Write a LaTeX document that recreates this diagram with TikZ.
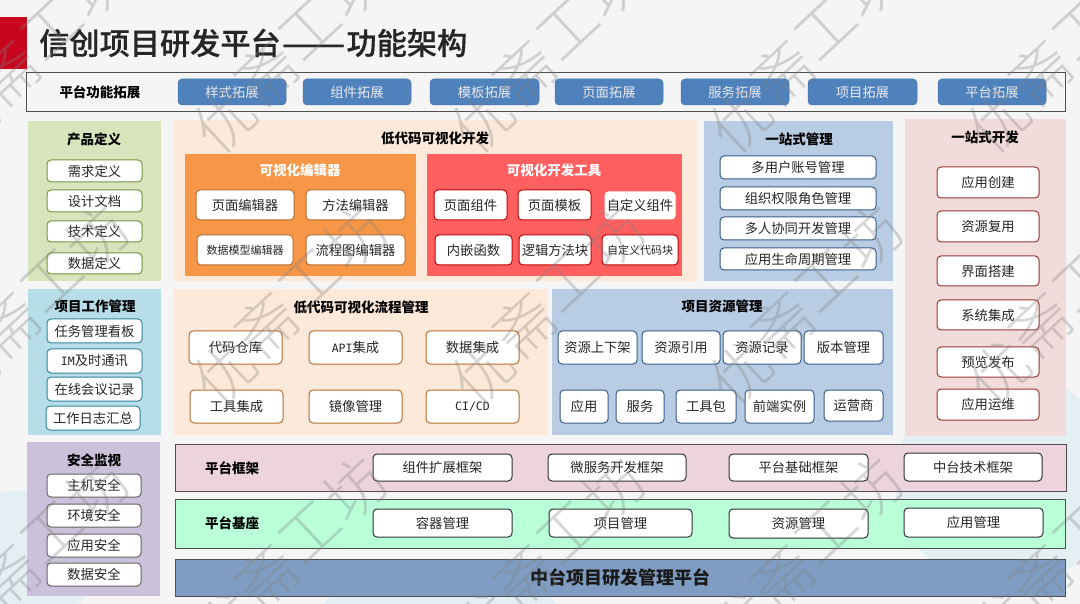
\documentclass[tikz,border=0pt]{standalone}
\usepackage{fontspec}
\usepackage{graphicx}
\setmainfont{Noto Sans CJK SC}
\newfontfamily\latmono{DejaVu Sans Mono}
\newfontfamily\titlefont[FakeBold=0.5]{Noto Sans CJK SC Medium}
\newfontfamily\wmfont{Noto Sans CJK SC Light}
\newcommand{\lat}[1]{{\latmono\fontsize{11.5}{14}\selectfont #1}}
\usetikzlibrary{calc}
\definecolor{bgc}{HTML}{F5F5F5}
\definecolor{wmc}{HTML}{808080}
\definecolor{blobc}{HTML}{E4EFF4}
\definecolor{redbar}{HTML}{C8071F}
\definecolor{btn}{HTML}{4F81BD}
\definecolor{pgreen}{HTML}{D8E4BC}
\definecolor{pcream}{HTML}{FDE9D9}
\definecolor{porange}{HTML}{F79646}
\definecolor{pred}{HTML}{FF5F5F}
\definecolor{pblue}{HTML}{B8CCE4}
\definecolor{ppink}{HTML}{F2DCDB}
\definecolor{pcyan}{HTML}{B7DEE8}
\definecolor{ppurple}{HTML}{CCC1DA}
\definecolor{bandpink}{HTML}{EDD3DE}
\definecolor{bandgreen}{HTML}{B9FFD8}
\definecolor{bandblue}{HTML}{7F9DC2}
\definecolor{sgreen}{HTML}{76923C}
\definecolor{sorange}{HTML}{B66D31}
\definecolor{sred}{HTML}{C00000}
\definecolor{sblue}{HTML}{385D8A}
\definecolor{smaroon}{HTML}{953735}
\definecolor{scyan}{HTML}{31859C}
\definecolor{sdark}{HTML}{303030}
\tikzset{
  panel/.style={draw=none,inner sep=0pt},
  band/.style={draw=sdark!85,line width=1pt,inner sep=0pt},
  item/.style={draw,fill=white,rounded corners=4pt,line width=1pt,inner sep=0pt,font=\fontsize{13.3}{15}\selectfont,text=black!85},
  smallitem/.style={item,font=\fontsize{11}{13}\selectfont},
  head/.style={inner sep=0pt,font=\fontsize{13.5}{15}\selectfont\bfseries,text=black},
  whitehead/.style={head,text=white},
  btnitem/.style={draw=btn!90!black,fill=btn,rounded corners=4pt,line width=.5pt,inner sep=0pt,text=white!92!black,font=\fontsize{13.3}{15}\selectfont},
  wm/.style={inner sep=0pt,text=wmc,text opacity=.32,rotate=43,font=\wmfont\fontsize{60}{62}\selectfont}
}
% \bx{name}{x1}{y1}{x2}{y2}{style}{text}
\newcommand{\bx}[7]{\node[#6,minimum width={(#4)-(#2)},minimum height={(#5)-(#3)}] (#1) at ({((#2)+(#4))/2},{((#3)+(#5))/2}) {#7};}
\begin{document}
\begin{tikzpicture}[x=1pt,y=-1pt]
\useasboundingbox (0,0) rectangle (1080,604);
\fill[bgc] (0,0) rectangle (1080,604);
% faint background blobs
\fill[blobc] (1005,480) ellipse (110 and 110);
\fill[blobc] (20,560) ellipse (75 and 70);
\fill[blobc] (440,610) ellipse (120 and 30);
% title
\bx{redbar}{0}{17}{27}{69}{panel,fill=redbar}{}
\node[anchor=west,inner sep=0pt,font=\titlefont\fontsize{30.2}{33}\selectfont,text=black!85] (title) at (39,43) {信创项目研发平台\kern1pt\scalebox{1.25}[1]{——}\kern1pt功能架构};
% top band
\bx{topband}{26}{73}{1065}{112}{band}{}
\node[head] (toplabel) at (100,92) {平台功能拓展};
\bx{b1}{178}{79}{286}{105}{btnitem}{样式拓展}
\bx{b2}{303}{79}{411}{105}{btnitem}{组件拓展}
\bx{b3}{430}{79}{539}{105}{btnitem}{模板拓展}
\bx{b4}{555}{79}{663}{105}{btnitem}{页面拓展}
\bx{b5}{681}{79}{789}{105}{btnitem}{服务拓展}
\bx{b6}{808}{79}{917}{105}{btnitem}{项目拓展}
\bx{b7}{938}{79}{1046}{105}{btnitem}{平台拓展}
% product definition
\bx{pa}{28}{121}{161}{281}{panel,fill=pgreen}{}
\node[head] (pat) at (94,139) {产品定义};
\bx{pa1}{47}{160}{142}{182}{item,draw=sgreen}{需求定义}
\bx{pa2}{47}{190}{142}{212}{item,draw=sgreen}{设计文档}
\bx{pa3}{47}{221}{142}{242}{item,draw=sgreen}{技术定义}
\bx{pa4}{47}{253}{142}{274}{item,draw=sgreen}{数据定义}
% low code dev
\bx{pb}{174}{120}{697}{281}{panel,fill=pcream}{}
\node[head] (pbt) at (435,138) {低代码可视化开发};
\bx{pc}{185}{154}{416}{276}{panel,fill=porange}{}
\node[whitehead] (pct) at (300,170) {可视化编辑器};
\bx{pc1}{196}{190}{294}{220}{item,draw=sorange}{页面编辑器}
\bx{pc2}{306}{190}{405}{220}{item,draw=sorange}{方法编辑器}
\bx{pc3}{197}{235}{293}{265}{smallitem,draw=sorange}{数据模型编辑器}
\bx{pc4}{306}{235}{405}{265}{item,draw=sorange}{流程图编辑器}
\bx{pd}{427}{154}{682}{276}{panel,fill=pred}{}
\node[whitehead] (pdt) at (554,170) {可视化开发工具};
\bx{pd1}{434}{190}{507}{220}{item,draw=sred}{页面组件}
\bx{pd2}{518}{190}{591}{220}{item,draw=sred}{页面模板}
\bx{pd3}{604}{191}{676}{220}{item,draw=pred}{自定义组件}
\bx{pd4}{435}{235}{512}{265}{item,draw=sred}{内嵌函数}
\bx{pd5}{519}{235}{591}{265}{item,draw=sred}{逻辑方法块}
\bx{pd6}{602}{235}{678}{265}{smallitem,draw=sred}{自定义代码块}
% one-stop management
\bx{pe}{704}{121}{893}{281}{panel,fill=pblue}{}
\node[head] (pet) at (799,139) {一站式管理};
\bx{pe1}{720}{156}{876}{179}{item,draw=sblue}{多用户账号管理}
\bx{pe2}{720}{187}{876}{210}{item,draw=sblue}{组织权限角色管理}
\bx{pe3}{720}{217}{876}{240}{item,draw=sblue}{多人协同开发管理}
\bx{pe4}{720}{248}{876}{270}{item,draw=sblue}{应用生命周期管理}
% one-stop development
\bx{pf}{905}{119}{1066}{436}{panel,fill=ppink}{}
\node[head] (pft) at (985,137) {一站式开发};
\bx{pf1}{937}{167}{1039}{198}{item,draw=smaroon}{应用创建}
\bx{pf2}{937}{211}{1039}{242}{item,draw=smaroon}{资源复用}
\bx{pf3}{937}{256}{1039}{286}{item,draw=smaroon}{界面搭建}
\bx{pf4}{937}{300}{1039}{330}{item,draw=smaroon}{系统集成}
\bx{pf5}{937}{347}{1039}{377}{item,draw=smaroon}{预览发布}
\bx{pf6}{937}{389}{1039}{420}{item,draw=smaroon}{应用运维}
% project work management
\bx{pg}{28}{289}{161}{435}{panel,fill=pcyan}{}
\node[head] (pgt) at (95,306) {项目工作管理};
\bx{pg1}{47}{319}{142}{343}{item,draw=scyan}{任务管理看板}
\bx{pg2}{47}{349}{142}{373}{item,draw=scyan}{\lat{IM}及时通讯}
\bx{pg3}{47}{377}{142}{401}{item,draw=scyan}{在线会议记录}
\bx{pg4}{46}{406}{140}{430}{item,draw=scyan}{工作日志汇总}
% flow management
\bx{ph}{174}{289}{548}{435}{panel,fill=pcream}{}
\node[head] (pht) at (361,307) {低代码可视化流程管理};
\bx{ph1}{189}{331}{282}{364}{item,draw=sorange}{代码仓库}
\bx{ph2}{309}{331}{402}{364}{item,draw=sorange}{\lat{API}集成}
\bx{ph3}{426}{331}{519}{364}{item,draw=sorange}{数据集成}
\bx{ph4}{190}{390}{283}{423}{item,draw=sorange}{工具集成}
\bx{ph5}{309}{390}{402}{423}{item,draw=sorange}{镜像管理}
\bx{ph6}{426}{390}{519}{423}{item,draw=sorange}{\lat{CI/CD}}
% resources
\bx{pi}{552}{289}{893}{435}{panel,fill=pblue}{}
\node[head] (pit) at (722,306) {项目资源管理};
\bx{pi1}{558}{331}{637}{364}{item,draw=sblue}{资源上下架}
\bx{pi2}{642}{331}{720}{364}{item,draw=sblue}{资源引用}
\bx{pi3}{723}{331}{801}{364}{item,draw=sblue}{资源记录}
\bx{pi4}{804}{331}{883}{364}{item,draw=sblue}{版本管理}
\bx{pi5}{560}{390}{608}{423}{item,draw=sblue}{应用}
\bx{pi6}{616}{390}{664}{423}{item,draw=sblue}{服务}
\bx{pi7}{676}{390}{736}{423}{item,draw=sblue}{工具包}
\bx{pi8}{745}{390}{814}{423}{item,draw=sblue}{前端实例}
\bx{pi9}{824}{390}{883}{421}{item,draw=sblue}{运营商}
% security
\bx{pj}{27}{442}{160}{596}{panel,fill=ppurple}{}
\node[head] (pjt) at (94,460) {安全监视};
\bx{pj1}{47}{474}{141}{497}{item,draw=sdark!75}{主机安全}
\bx{pj2}{47}{504}{141}{527}{item,draw=sdark!75}{环境安全}
\bx{pj3}{47}{534}{141}{557}{item,draw=sdark!75}{应用安全}
\bx{pj4}{47}{563}{141}{586}{item,draw=sdark!75}{数据安全}
% framework band
\bx{pk}{175}{444}{1066}{491}{band,fill=bandpink}{}
\node[head] (pkt) at (232,468) {平台框架};
\bx{pk1}{373}{454}{512}{481}{item,draw=sdark}{组件扩展框架}
\bx{pk2}{548}{454}{686}{481}{item,draw=sdark}{微服务开发框架}
\bx{pk3}{729}{454}{868}{481}{item,draw=sdark}{平台基础框架}
\bx{pk4}{904}{453}{1042}{481}{item,draw=sdark}{中台技术框架}
% base band
\bx{pl}{175}{499}{1065}{548}{band,fill=bandgreen}{}
\node[head] (plt) at (232,523) {平台基座};
\bx{pl1}{373}{509}{512}{537}{item,draw=sdark}{容器管理}
\bx{pl2}{549}{509}{692}{537}{item,draw=sdark}{项目管理}
\bx{pl3}{729}{509}{868}{538}{item,draw=sdark}{资源管理}
\bx{pl4}{904}{508}{1043}{537}{item,draw=sdark}{应用管理}
% bottom band
\bx{pm}{175}{559}{1065}{596}{band,fill=bandblue,font=\fontsize{18}{21}\selectfont\bfseries,text=black!90}{中台项目研发管理平台}
% watermark
\foreach \c in {0,1,2,3,4}{
 \foreach \r in {0,1,2}{
  \pgfmathsetmacro{\dx}{258*\c-258}
  \pgfmathsetmacro{\dy}{252*\r}
  \node[wm] (wma\c\r) at ({225+\dx},{120+\dy}) {优};
  \node[wm] (wmb\c\r) at ({267+\dx},{73+\dy}) {斋};
  \node[wm] (wmc\c\r) at ({310+\dx},{28+\dy}) {工};
  \node[wm] (wmd\c\r) at ({355+\dx},{-15+\dy}) {坊};
 }
}
\end{tikzpicture}
\end{document}
